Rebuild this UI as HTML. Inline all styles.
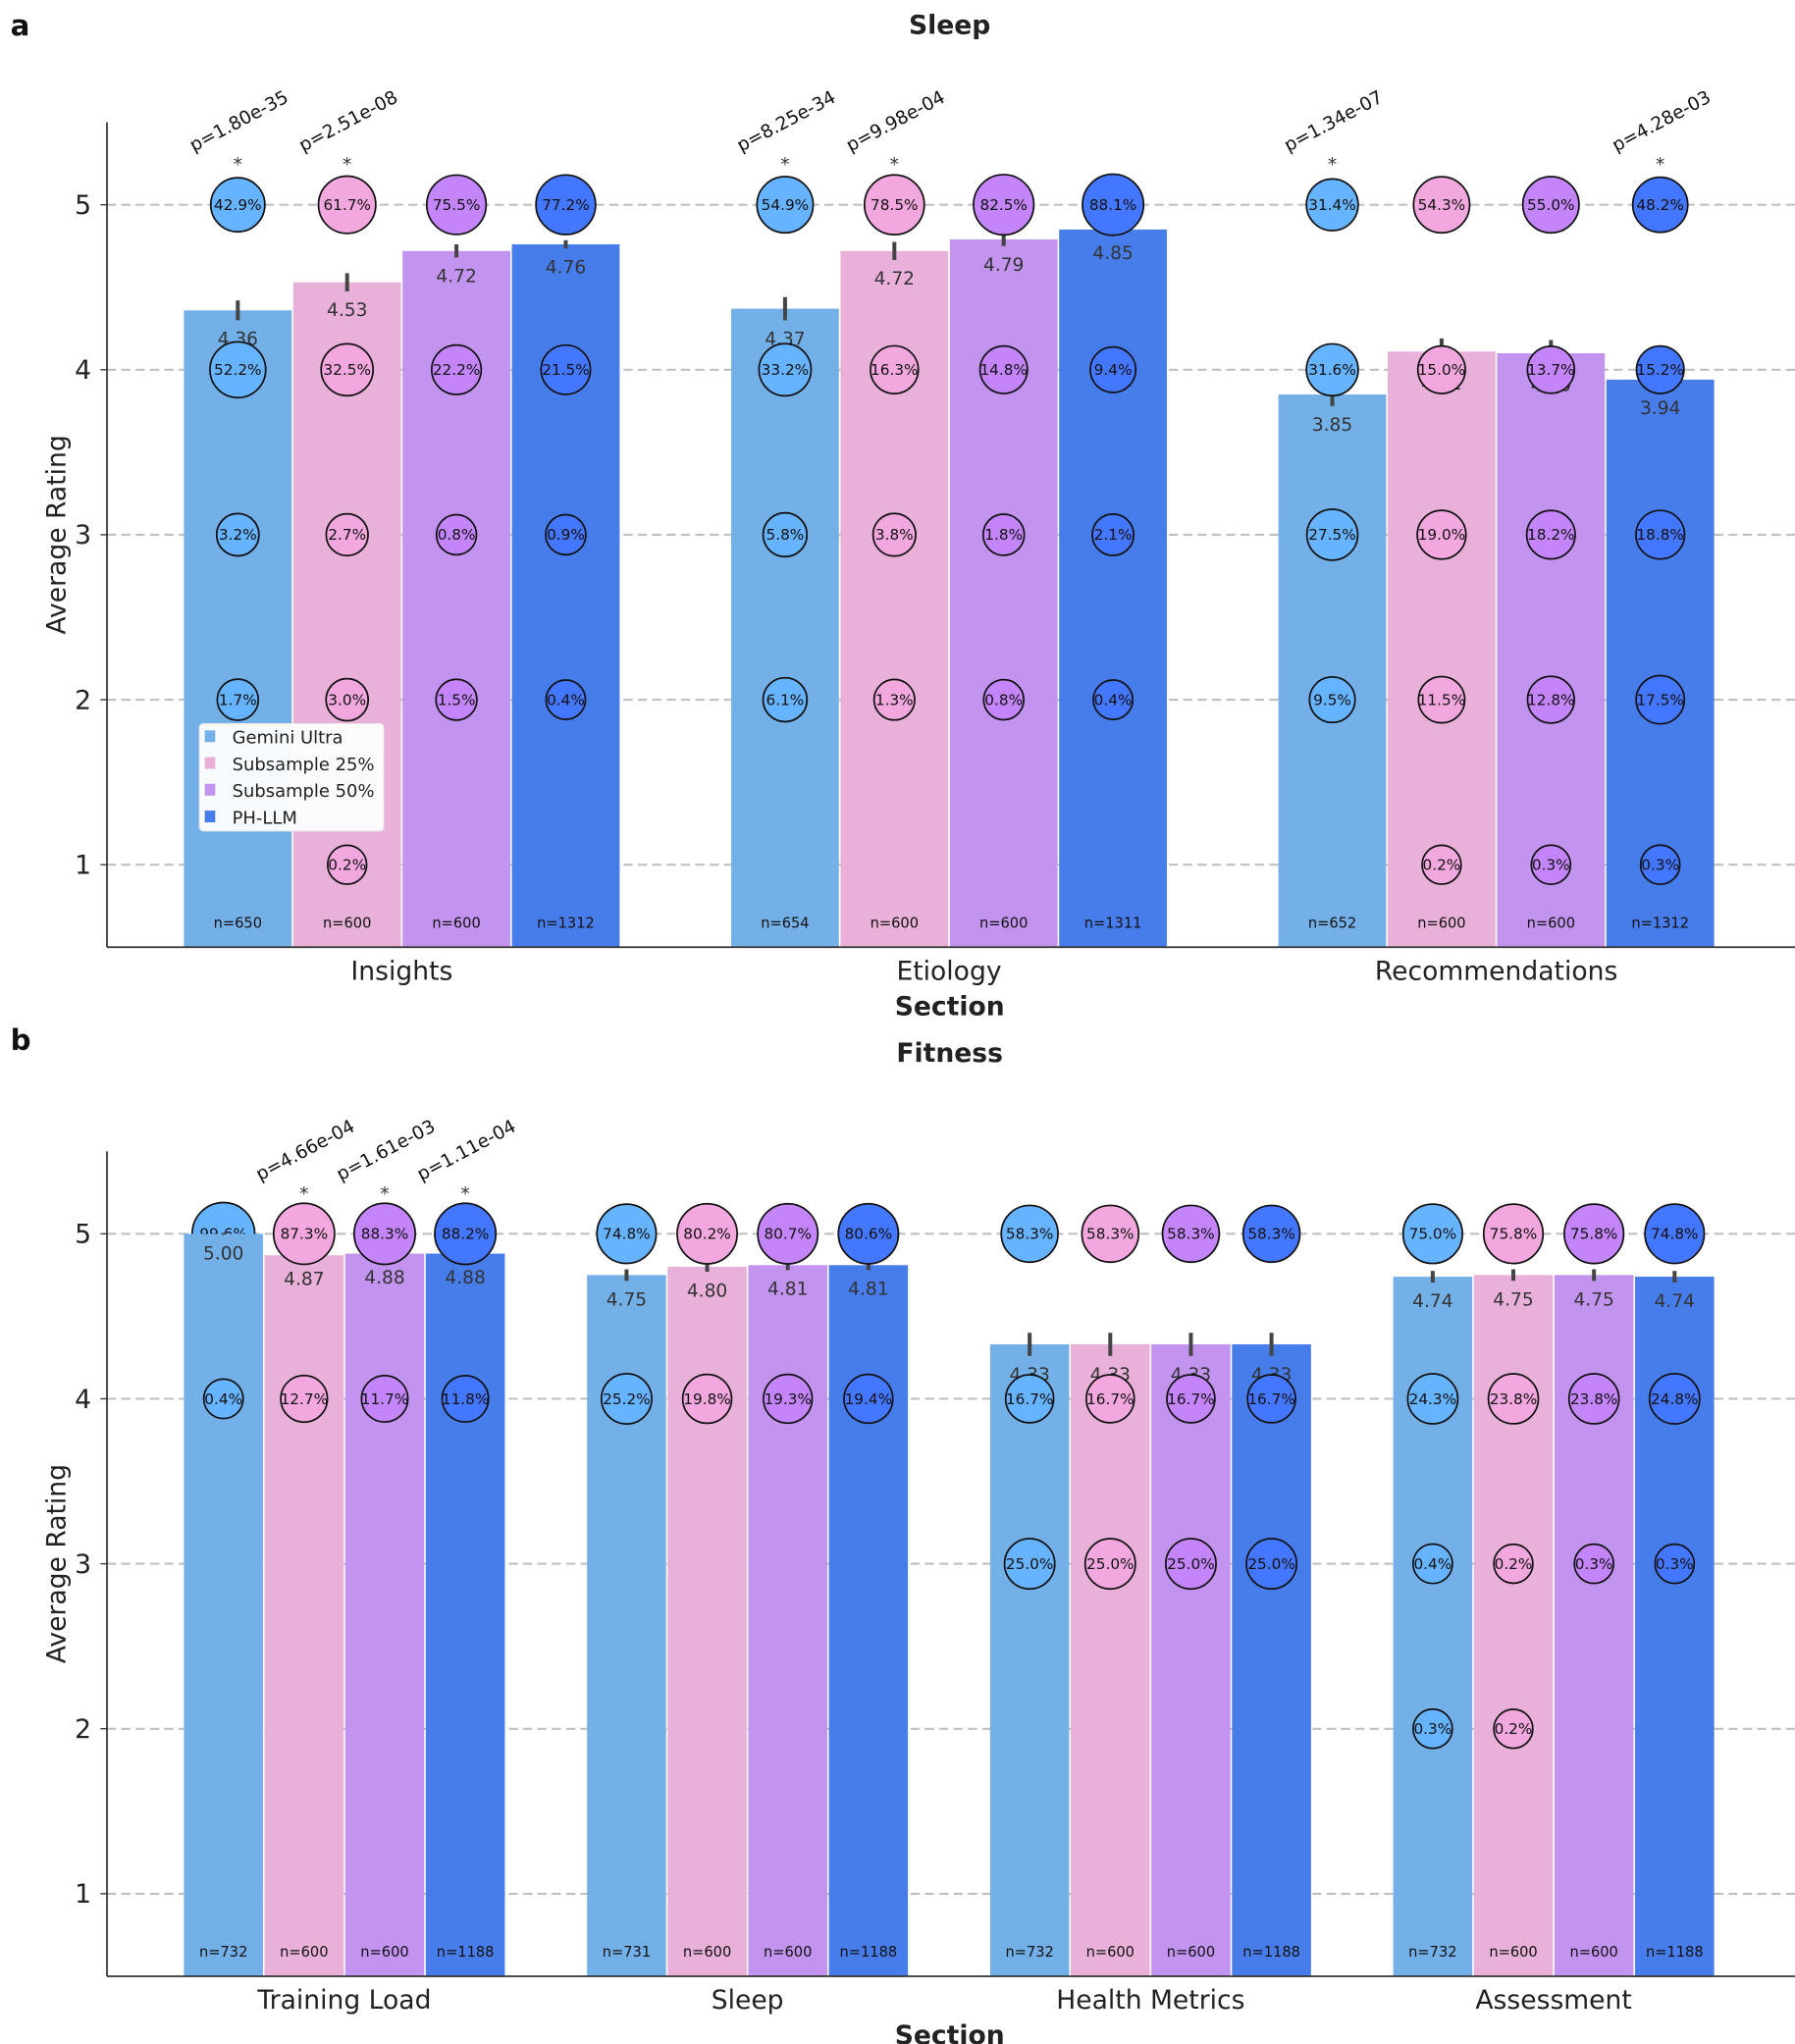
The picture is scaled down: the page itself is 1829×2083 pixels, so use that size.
<!DOCTYPE html>
<html><head><meta charset="utf-8">
<style>html,body{margin:0;padding:0;background:#fff}svg{display:block}text{font-family:"DejaVu Sans","Liberation Sans",sans-serif}</style>
</head><body>
<svg id="s" xmlns="http://www.w3.org/2000/svg" width="1829" height="2083" viewBox="0 0 1376 1567.2" preserveAspectRatio="none"></svg>
<script>
const S=document.getElementById('s');let h='';
const barC=['#74B0E8','#E9B1D9','#C394EF','#477DEA'];
const cirC=['#66B3FF','#F2A8DE','#C585FA','#4477FF'];
function txt(x,y,t,sz,o){o=o||{};h+=`<text x="${x}" y="${y}" font-size="${sz}" text-anchor="${o.a||'middle'}" fill="${o.f||'#222'}" ${o.b?'font-weight="bold"':''} ${o.tr?'transform="'+o.tr+'"':''}>${t}</text>`;}
function cStr(cx,cy,p,b){const r=14.5+0.95*Math.sqrt(p);
 return `<circle cx="${cx}" cy="${cy}" r="${r}" fill="${cirC[b]}" stroke="#111" stroke-width="1.3"/><text x="${cx}" y="${cy+4}" font-size="11.5" text-anchor="middle" fill="#111">${p.toFixed(1)}%</text>`;}
function panel(P){
 const yv=v=>P.y1-(v-1)*126.5;
 const top=yv(5.5),bot=yv(0.5);
 txt(8,P.lblY,P.lbl,22,{a:'start',b:1,f:'#111'});
 txt(728,P.titleY,P.title,20,{b:1});
 for(let v=1;v<=5;v++){h+=`<line x1="82" x2="1376" y1="${yv(v)}" y2="${yv(v)}" stroke="#c0c0c0" stroke-width="1.6" stroke-dasharray="7,4"/>`;
  h+=`<line x1="77" x2="82" y1="${yv(v)}" y2="${yv(v)}" stroke="#333" stroke-width="1"/>`;txt(70,yv(v)+7,v,20,{a:'end'});}
 txt(0,0,'Average Rating',20,{tr:`translate(50,${(top+bot)/2}) rotate(-90)`});
 let late='';
 P.groups.forEach((g,gi)=>{
  const gc=P.c0+gi*P.gs;
  txt(gc,bot+25,g.name,20);
  for(let b=0;b<4;b++){
   const cx=gc+(b-1.5)*P.bw, x0=cx-P.bw/2, m=g.m[b], yt=yv(m);
   g.c[b].forEach(([lv,p])=>{if(g.under&&g.under[b]===lv){h+=cStr(cx,yv(lv),p,b);}});
   h+=`<rect x="${x0+0.6}" y="${yt}" width="${P.bw-1.2}" height="${bot-yt}" fill="${barC[b]}"/>`;
   const e=g.e[b];
   h+=`<line x1="${cx}" x2="${cx}" y1="${yv(m+e)}" y2="${yv(m-e)}" stroke="#444" stroke-width="3"/>`;
   txt(cx,yv(m-e)+19,m.toFixed(2),14,{f:'#333'});
   txt(cx,bot-15,'n='+g.n[b],11,{f:'#111'});
   g.c[b].forEach(([lv,p])=>{if(!(g.under&&g.under[b]===lv))late+=cStr(cx,yv(lv),p,b);});
   if(g.p&&g.p[b]){late+=`<text x="${cx}" y="${yv(5)-26}" font-size="14" text-anchor="middle" fill="#333">*</text>`;
    late+=`<text x="0" y="0" font-size="14" text-anchor="middle" fill="#111" transform="translate(${cx+3},${yv(5)-60}) rotate(-28)">${g.p[b]}</text>`;}
  }
 });
 h+=late;
 h+=`<line x1="82" x2="82" y1="${top}" y2="${bot}" stroke="#333" stroke-width="1.3"/><line x1="82" x2="1376" y1="${bot}" y2="${bot}" stroke="#333" stroke-width="1.3"/>`;
 txt(728,bot+52,'Section',20,{b:1});
}
panel({lbl:'a',lblY:27,title:'Sleep',titleY:26,y1:663,c0:308,gs:419.5,bw:83.8,groups:[
 {name:'Insights',m:[4.36,4.53,4.72,4.76],e:[.06,.055,.04,.025],n:[650,600,600,1312],p:['p=1.80e-35','p=2.51e-08'],
  c:[[[5,42.9],[4,52.2],[3,3.2],[2,1.7]],[[5,61.7],[4,32.5],[3,2.7],[2,3.0],[1,0.2]],[[5,75.5],[4,22.2],[3,0.8],[2,1.5]],[[5,77.2],[4,21.5],[3,0.9],[2,0.4]]]},
 {name:'Etiology',m:[4.37,4.72,4.79,4.85],e:[.07,.055,.04,.03],n:[654,600,600,1311],p:['p=8.25e-34','p=9.98e-04'],
  c:[[[5,54.9],[4,33.2],[3,5.8],[2,6.1]],[[5,78.5],[4,16.3],[3,3.8],[2,1.3]],[[5,82.5],[4,14.8],[3,1.8],[2,0.8]],[[5,88.1],[4,9.4],[3,2.1],[2,0.4]]]},
 {name:'Recommendations',m:[3.85,4.11,4.10,3.94],e:[.07,.08,.08,.06],n:[652,600,600,1312],p:['p=1.34e-07',null,null,'p=4.28e-03'],
  c:[[[5,31.4],[4,31.6],[3,27.5],[2,9.5]],[[5,54.3],[4,15.0],[3,19.0],[2,11.5],[1,0.2]],[[5,55.0],[4,13.7],[3,18.2],[2,12.8],[1,0.3]],[[5,48.2],[4,15.2],[3,18.8],[2,17.5],[1,0.3]]]}
]});
// legend
h+=`<rect x="153" y="555" width="141" height="82" rx="3" fill="#fff" fill-opacity="0.95" stroke="#eee"/>`;
['Gemini Ultra','Subsample 25%','Subsample 50%','PH-LLM'].forEach((t,i)=>{const y=565+i*20.5;
 h+=`<rect x="157" y="${y-5}" width="8" height="9" fill="${barC[i]}"/>`;txt(178,y+5,t,13.5,{a:'start',f:'#222'});});
panel({lbl:'b',lblY:805,title:'Fitness',titleY:814,y1:1452,c0:264,gs:309,bw:61.8,groups:[
 {name:'Training Load',m:[5.00,4.87,4.88,4.88],e:[.005,.03,.03,.03],n:[732,600,600,1188],p:[null,'p=4.66e-04','p=1.61e-03','p=1.11e-04'],under:[5,0,0,0],
  c:[[[5,99.6],[4,0.4]],[[5,87.3],[4,12.7]],[[5,88.3],[4,11.7]],[[5,88.2],[4,11.8]]]},
 {name:'Sleep',m:[4.75,4.80,4.81,4.81],e:[.035,.03,.03,.03],n:[731,600,600,1188],
  c:[[[5,74.8],[4,25.2]],[[5,80.2],[4,19.8]],[[5,80.7],[4,19.3]],[[5,80.6],[4,19.4]]]},
 {name:'Health Metrics',m:[4.33,4.33,4.33,4.33],e:[.07,.07,.07,.07],n:[732,600,600,1188],
  c:[[[5,58.3],[4,16.7],[3,25.0]],[[5,58.3],[4,16.7],[3,25.0]],[[5,58.3],[4,16.7],[3,25.0]],[[5,58.3],[4,16.7],[3,25.0]]]},
 {name:'Assessment',m:[4.74,4.75,4.75,4.74],e:[.035,.035,.035,.035],n:[732,600,600,1188],
  c:[[[5,75.0],[4,24.3],[3,0.4],[2,0.3]],[[5,75.8],[4,23.8],[3,0.2],[2,0.2]],[[5,75.8],[4,23.8],[3,0.3]],[[5,74.8],[4,24.8],[3,0.3]]]}
]});
S.innerHTML=h;
</script>
</body></html>
